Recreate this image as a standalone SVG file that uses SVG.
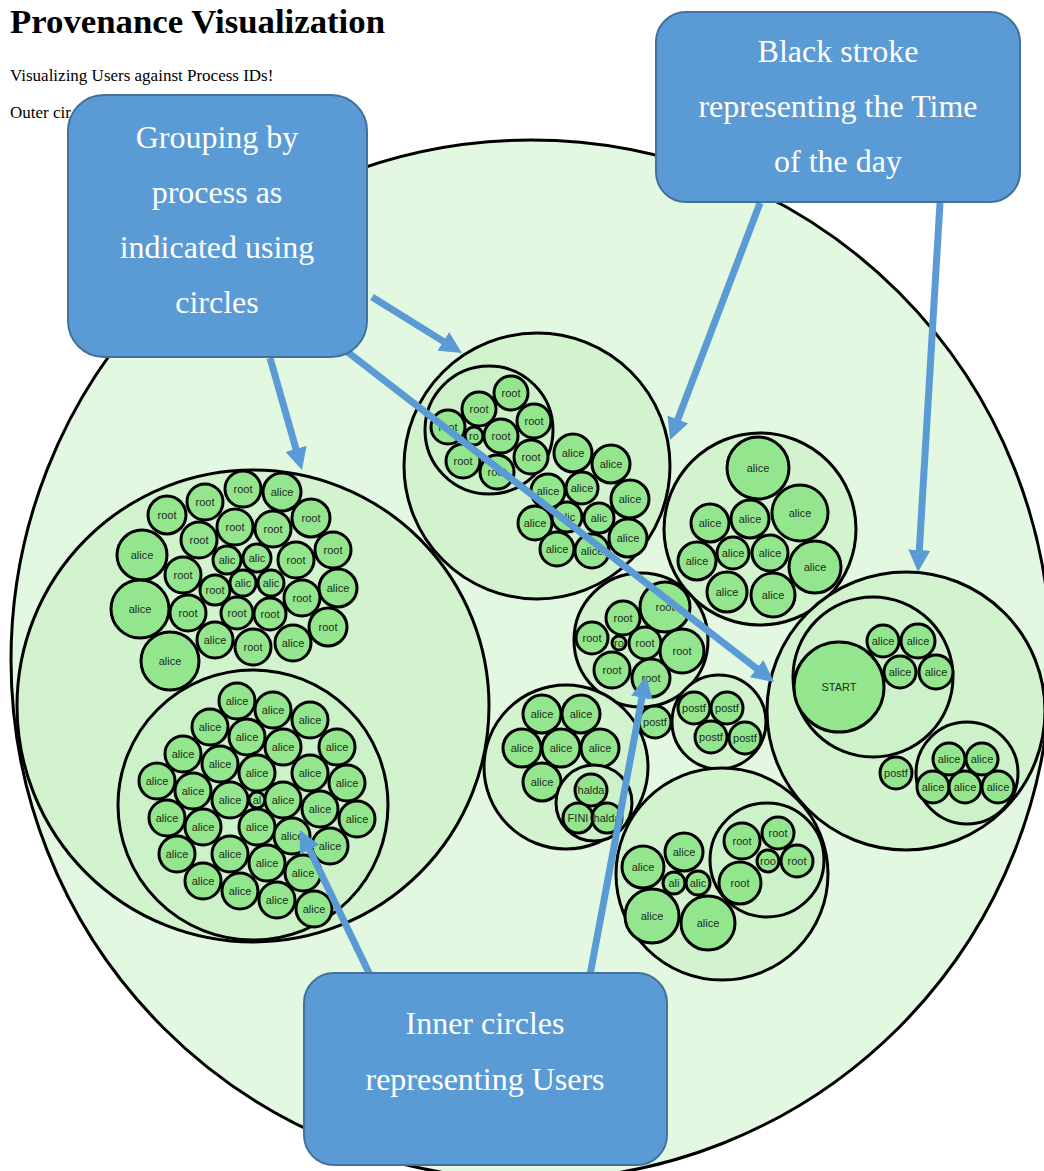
<svg xmlns="http://www.w3.org/2000/svg" width="1044" height="1171" viewBox="0 0 1044 1171">
<defs>
<style>
.bg{fill:#ffffff}
.root-c{fill:#e3f8e0;stroke:#000;stroke-width:3}
.grp{fill:#d3f3cf;stroke:#000;stroke-width:3}
.sub{fill:#cdf1c9;stroke:#000;stroke-width:3}
.leaf circle{fill:#94e68e;stroke:#000;stroke-width:3}
.leaf text{font-family:"Liberation Sans",Arial,sans-serif;font-size:11px;fill:#1b2e1b;text-anchor:middle;dominant-baseline:central}
.title{font-family:"Liberation Serif","Times New Roman",serif;font-weight:bold;font-size:34px;fill:#000}
.sub-t{font-family:"Liberation Serif","Times New Roman",serif;font-size:17px;fill:#000}
.callout rect{fill:#5b9bd5;stroke:#41719c;stroke-width:2}
.callout text{font-family:"Liberation Serif","Times New Roman",serif;font-size:32px;fill:#ffffff;text-anchor:middle;dominant-baseline:central}
.conn line{stroke:#5b9bd5;stroke-width:7;marker-end:url(#head)}
</style>
<marker id="head" markerUnits="userSpaceOnUse" markerWidth="22" markerHeight="22" refX="2" refY="11" orient="auto">
<path d="M0,0 L22,11 L0,22 z" fill="#5b9bd5"/>
</marker>
</defs>
<rect class="bg" x="0" y="0" width="1044" height="1171"/>

<!-- page heading -->
<text class="title" x="10" y="33" textLength="375" lengthAdjust="spacingAndGlyphs">Provenance Visualization</text>
<text class="sub-t" x="10" y="81">Visualizing Users against Process IDs!</text>
<text class="sub-t" x="10" y="118">Outer cir</text>

<!-- outermost pack circle -->
<circle id="pack-root" class="root-c" cx="531" cy="660" r="520"/>

<!-- left process group -->
<g id="grp-left">
<circle class="grp" cx="253" cy="706" r="236"/>
<g class="leaf">
<circle cx="243" cy="489" r="18"/><text x="243" y="489">root</text>
<circle cx="282" cy="492" r="19"/><text x="282" y="492">alice</text>
<circle cx="205" cy="502" r="18"/><text x="205" y="502">root</text>
<circle cx="167" cy="515" r="19"/><text x="167" y="515">root</text>
<circle cx="311" cy="518" r="19"/><text x="311" y="518">root</text>
<circle cx="235" cy="527" r="18"/><text x="235" y="527">root</text>
<circle cx="273" cy="529" r="18"/><text x="273" y="529">root</text>
<circle cx="199" cy="540" r="18"/><text x="199" y="540">root</text>
<circle cx="142" cy="555" r="25"/><text x="142" y="555">alice</text>
<circle cx="227" cy="560" r="14"/><text x="227" y="560">alic</text>
<circle cx="257" cy="558" r="14"/><text x="257" y="558">alic</text>
<circle cx="296" cy="560" r="18"/><text x="296" y="560">root</text>
<circle cx="333" cy="550" r="18"/><text x="333" y="550">root</text>
<circle cx="183" cy="575" r="18"/><text x="183" y="575">root</text>
<circle cx="215" cy="590" r="15"/><text x="215" y="590">root</text>
<circle cx="243" cy="583" r="13"/><text x="243" y="583">alic</text>
<circle cx="271" cy="583" r="13"/><text x="271" y="583">alic</text>
<circle cx="302" cy="598" r="18"/><text x="302" y="598">root</text>
<circle cx="338" cy="588" r="19"/><text x="338" y="588">alice</text>
<circle cx="140" cy="609" r="29"/><text x="140" y="609">alice</text>
<circle cx="188" cy="613" r="18"/><text x="188" y="613">root</text>
<circle cx="237" cy="613" r="16"/><text x="237" y="613">root</text>
<circle cx="270" cy="614" r="16"/><text x="270" y="614">root</text>
<circle cx="328" cy="627" r="19"/><text x="328" y="627">root</text>
<circle cx="215" cy="640" r="18"/><text x="215" y="640">alice</text>
<circle cx="253" cy="647" r="18"/><text x="253" y="647">root</text>
<circle cx="293" cy="643" r="18"/><text x="293" y="643">alice</text>
<circle cx="170" cy="661" r="29"/><text x="170" y="661">alice</text>
</g>
<g id="grp-left-users">
<circle class="sub" cx="253" cy="805" r="135"/>
<g class="leaf">
<circle cx="237" cy="701" r="18"/><text x="237" y="701">alice</text>
<circle cx="273" cy="710" r="18"/><text x="273" y="710">alice</text>
<circle cx="310" cy="720" r="18"/><text x="310" y="720">alice</text>
<circle cx="210" cy="727" r="18"/><text x="210" y="727">alice</text>
<circle cx="247" cy="737" r="18"/><text x="247" y="737">alice</text>
<circle cx="283" cy="747" r="18"/><text x="283" y="747">alice</text>
<circle cx="337" cy="747" r="18"/><text x="337" y="747">alice</text>
<circle cx="183" cy="754" r="18"/><text x="183" y="754">alice</text>
<circle cx="220" cy="764" r="18"/><text x="220" y="764">alice</text>
<circle cx="257" cy="773" r="18"/><text x="257" y="773">alice</text>
<circle cx="310" cy="773" r="18"/><text x="310" y="773">alice</text>
<circle cx="157" cy="781" r="18"/><text x="157" y="781">alice</text>
<circle cx="347" cy="783" r="18"/><text x="347" y="783">alice</text>
<circle cx="193" cy="791" r="18"/><text x="193" y="791">alice</text>
<circle cx="230" cy="800" r="18"/><text x="230" y="800">alice</text>
<circle cx="257" cy="800" r="8"/><text x="257" y="800">al</text>
<circle cx="283" cy="800" r="18"/><text x="283" y="800">alice</text>
<circle cx="320" cy="809" r="18"/><text x="320" y="809">alice</text>
<circle cx="167" cy="818" r="18"/><text x="167" y="818">alice</text>
<circle cx="357" cy="819" r="18"/><text x="357" y="819">alice</text>
<circle cx="203" cy="827" r="18"/><text x="203" y="827">alice</text>
<circle cx="257" cy="827" r="18"/><text x="257" y="827">alice</text>
<circle cx="292" cy="836" r="18"/><text x="292" y="836">alice</text>
<circle cx="330" cy="846" r="18"/><text x="330" y="846">alice</text>
<circle cx="177" cy="854" r="18"/><text x="177" y="854">alice</text>
<circle cx="230" cy="854" r="18"/><text x="230" y="854">alice</text>
<circle cx="267" cy="863" r="18"/><text x="267" y="863">alice</text>
<circle cx="303" cy="873" r="18"/><text x="303" y="873">alice</text>
<circle cx="203" cy="881" r="18"/><text x="203" y="881">alice</text>
<circle cx="240" cy="891" r="18"/><text x="240" y="891">alice</text>
<circle cx="277" cy="900" r="18"/><text x="277" y="900">alice</text>
<circle cx="314" cy="909" r="18"/><text x="314" y="909">alice</text>
</g>
</g>
</g>

<!-- top process group -->
<g id="grp-top">
<circle class="grp" cx="537" cy="466" r="133"/>
<g id="grp-top-root">
<circle class="sub" cx="489" cy="430" r="64"/>
<g class="leaf">
<circle cx="511" cy="393" r="17"/><text x="511" y="393">root</text>
<circle cx="479" cy="409" r="17"/><text x="479" y="409">root</text>
<circle cx="448" cy="427" r="17"/><text x="448" y="427">root</text>
<circle cx="474" cy="436" r="9"/><text x="474" y="436">ro</text>
<circle cx="501" cy="436" r="17"/><text x="501" y="436">root</text>
<circle cx="534" cy="421" r="17"/><text x="534" y="421">root</text>
<circle cx="463" cy="461" r="17"/><text x="463" y="461">root</text>
<circle cx="497" cy="472" r="17"/><text x="497" y="472">root</text>
<circle cx="531" cy="457" r="17"/><text x="531" y="457">root</text>
</g>
</g>
<g class="leaf">
<circle cx="573" cy="453" r="19"/><text x="573" y="453">alice</text>
<circle cx="611" cy="464" r="19"/><text x="611" y="464">alice</text>
<circle cx="548" cy="491" r="17"/><text x="548" y="491">alice</text>
<circle cx="582" cy="488" r="16"/><text x="582" y="488">alice</text>
<circle cx="630" cy="499" r="19"/><text x="630" y="499">alice</text>
<circle cx="535" cy="523" r="17"/><text x="535" y="523">alice</text>
<circle cx="567" cy="517" r="15"/><text x="567" y="517">alic</text>
<circle cx="599" cy="518" r="15"/><text x="599" y="518">alic</text>
<circle cx="628" cy="538" r="19"/><text x="628" y="538">alice</text>
<circle cx="557" cy="549" r="17"/><text x="557" y="549">alice</text>
<circle cx="592" cy="551" r="17"/><text x="592" y="551">alice</text>
</g>
</g>

<!-- upper right process group -->
<g id="grp-upper-right">
<circle class="grp" cx="760" cy="529" r="96"/>
<g class="leaf">
<circle cx="758" cy="468" r="31"/><text x="758" y="468">alice</text>
<circle cx="710" cy="523" r="19"/><text x="710" y="523">alice</text>
<circle cx="750" cy="519" r="19"/><text x="750" y="519">alice</text>
<circle cx="800" cy="513" r="28"/><text x="800" y="513">alice</text>
<circle cx="697" cy="561" r="19"/><text x="697" y="561">alice</text>
<circle cx="733" cy="553" r="16"/><text x="733" y="553">alice</text>
<circle cx="770" cy="553" r="18"/><text x="770" y="553">alice</text>
<circle cx="815" cy="567" r="26"/><text x="815" y="567">alice</text>
<circle cx="727" cy="592" r="20"/><text x="727" y="592">alice</text>
<circle cx="773" cy="595" r="22"/><text x="773" y="595">alice</text>
</g>
</g>

<!-- middle root group -->
<g id="grp-middle">
<circle class="grp" cx="641" cy="640" r="67"/>
<g class="leaf">
<circle cx="665" cy="607" r="25"/><text x="665" y="607">root</text>
<circle cx="623" cy="618" r="17"/><text x="623" y="618">root</text>
<circle cx="592" cy="638" r="16"/><text x="592" y="638">root</text>
<circle cx="619" cy="643" r="7"/><text x="619" y="643">ro</text>
<circle cx="645" cy="643" r="16"/><text x="645" y="643">root</text>
<circle cx="682" cy="651" r="22"/><text x="682" y="651">root</text>
<circle cx="612" cy="670" r="18"/><text x="612" y="670">root</text>
<circle cx="651" cy="678" r="19"/><text x="651" y="678">root</text>
</g>
</g>

<!-- postf group -->
<g id="grp-postf">
<circle class="grp" cx="719" cy="722" r="47"/>
<g class="leaf">
<circle cx="694" cy="708" r="16"/><text x="694" y="708">postf</text>
<circle cx="727" cy="708" r="16"/><text x="727" y="708">postf</text>
<circle cx="711" cy="737" r="16"/><text x="711" y="737">postf</text>
<circle cx="745" cy="738" r="16"/><text x="745" y="738">postf</text>
</g>
</g>
<g id="leaf-postf-single" class="leaf">
<circle cx="655" cy="722" r="16"/><text x="655" y="722">postf</text>
</g>

<!-- START group -->
<g id="grp-start">
<circle class="grp" cx="906" cy="711" r="139"/>
<g id="grp-start-a">
<circle class="sub" cx="873" cy="677" r="80"/>
<g class="leaf">
<circle cx="839" cy="687" r="45"/><text x="839" y="687">START</text>
<circle cx="883" cy="641" r="16"/><text x="883" y="641">alice</text>
<circle cx="918" cy="641" r="17"/><text x="918" y="641">alice</text>
<circle cx="900" cy="672" r="16"/><text x="900" y="672">alice</text>
<circle cx="936" cy="672" r="17"/><text x="936" y="672">alice</text>
</g>
</g>
<g id="grp-start-b">
<circle class="sub" cx="967" cy="773" r="51"/>
<g class="leaf">
<circle cx="949" cy="759" r="16"/><text x="949" y="759">alice</text>
<circle cx="982" cy="759" r="16"/><text x="982" y="759">alice</text>
<circle cx="933" cy="787" r="16"/><text x="933" y="787">alice</text>
<circle cx="965" cy="787" r="16"/><text x="965" y="787">alice</text>
<circle cx="998" cy="787" r="16"/><text x="998" y="787">alice</text>
</g>
</g>
<g class="leaf">
<circle cx="896" cy="773" r="16"/><text x="896" y="773">postf</text>
</g>
</g>

<!-- lower middle group (FINI) -->
<g id="grp-fini">
<circle class="grp" cx="566" cy="767" r="82"/>
<g class="leaf">
<circle cx="542" cy="714" r="19"/><text x="542" y="714">alice</text>
<circle cx="581" cy="714" r="19"/><text x="581" y="714">alice</text>
<circle cx="522" cy="748" r="19"/><text x="522" y="748">alice</text>
<circle cx="561" cy="748" r="19"/><text x="561" y="748">alice</text>
<circle cx="600" cy="748" r="19"/><text x="600" y="748">alice</text>
<circle cx="542" cy="782" r="19"/><text x="542" y="782">alice</text>
</g>
<g id="grp-fini-halda">
<circle class="sub" cx="594" cy="803" r="38"/>
<g class="leaf">
<circle cx="591" cy="790" r="16"/><text x="591" y="790">halda</text>
<circle cx="578" cy="818" r="15"/><text x="578" y="818">FINI</text>
<circle cx="607" cy="818" r="15"/><text x="607" y="818">halda</text>
</g>
</g>
</g>

<!-- lower right group -->
<g id="grp-lower-right">
<circle class="grp" cx="722" cy="874" r="106"/>
<g id="grp-lower-right-root">
<circle class="sub" cx="767" cy="860" r="57"/>
<g class="leaf">
<circle cx="742" cy="841" r="18"/><text x="742" y="841">root</text>
<circle cx="778" cy="833" r="16"/><text x="778" y="833">root</text>
<circle cx="768" cy="861" r="11"/><text x="768" y="861">roo</text>
<circle cx="797" cy="861" r="16"/><text x="797" y="861">root</text>
<circle cx="740" cy="883" r="21"/><text x="740" y="883">root</text>
</g>
</g>
<g class="leaf">
<circle cx="643" cy="867" r="21"/><text x="643" y="867">alice</text>
<circle cx="684" cy="852" r="19"/><text x="684" y="852">alice</text>
<circle cx="674" cy="883" r="11"/><text x="674" y="883">ali</text>
<circle cx="698" cy="883" r="12"/><text x="698" y="883">alic</text>
<circle cx="652" cy="916" r="27"/><text x="652" y="916">alice</text>
<circle cx="708" cy="923" r="27"/><text x="708" y="923">alice</text>
</g>
</g>

<!-- callout pointers -->
<g id="connectors" class="conn">
<line x1="372" y1="297" x2="445" y2="342.4"/>
<line x1="270" y1="358" x2="296.5" y2="450.8"/>
<line x1="345" y1="350" x2="758.2" y2="669.8"/>
<line x1="760" y1="203" x2="677.1" y2="421.3"/>
<line x1="940" y1="203" x2="919.2" y2="552"/>
<line x1="370" y1="975" x2="308.7" y2="848"/>
<line x1="590" y1="975" x2="642.3" y2="695.7"/>
</g>

<!-- callouts -->
<g id="callout-grouping" class="callout">
<rect x="68" y="95" width="299" height="262" rx="36"/>
<text x="217" y="137">Grouping by</text>
<text x="217" y="192">process as</text>
<text x="217" y="247">indicated using</text>
<text x="217" y="302">circles</text>
</g>
<g id="callout-stroke" class="callout">
<rect x="656" y="12" width="364" height="190" rx="30"/>
<text x="838" y="51">Black stroke</text>
<text x="838" y="106">representing the Time</text>
<text x="838" y="161">of the day</text>
</g>
<g id="callout-users" class="callout">
<rect x="304" y="973" width="363" height="192" rx="30"/>
<text x="485" y="1023">Inner circles</text>
<text x="485" y="1079">representing Users</text>
</g>
</svg>
